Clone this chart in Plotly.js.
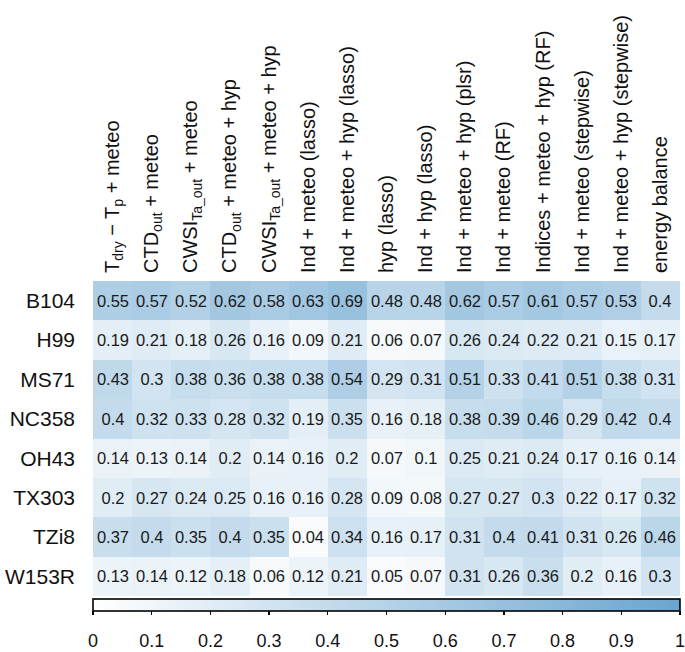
<!DOCTYPE html>
<html>
<head>
<meta charset="utf-8">
<script src="https://cdn.plot.ly/plotly-3.0.1.min.js"></script>
<style>html,body{margin:0;padding:0;background:#fff;}#chart{width:685px;height:652px;}</style>
</head>
<body>
<div id="chart"></div>
<script>
const models = [
  "T<sub>dry</sub> − T<sub>p</sub> + meteo",
  "CTD<sub>out</sub> + meteo",
  "CWSI<sub>Ta_out</sub> + meteo",
  "CTD<sub>out</sub> + meteo + hyp",
  "CWSI<sub>Ta_out</sub> + meteo + hyp",
  "Ind + meteo (lasso)",
  "Ind + meteo + hyp (lasso)",
  "hyp (lasso)",
  "Ind + hyp (lasso)",
  "Ind + meteo + hyp (plsr)",
  "Ind + meteo (RF)",
  "Indices + meteo + hyp (RF)",
  "Ind + meteo (stepwise)",
  "Ind + meteo + hyp (stepwise)",
  "energy balance"
];
const genotypes = ["B104", "H99", "MS71", "NC358", "OH43", "TX303", "TZi8", "W153R"];
const B104  = [0.55, 0.57, 0.52, 0.62, 0.58, 0.63, 0.69, 0.48, 0.48, 0.62, 0.57, 0.61, 0.57, 0.53, 0.4];
const H99   = [0.19, 0.21, 0.18, 0.26, 0.16, 0.09, 0.21, 0.06, 0.07, 0.26, 0.24, 0.22, 0.21, 0.15, 0.17];
const MS71  = [0.43, 0.3, 0.38, 0.36, 0.38, 0.38, 0.54, 0.29, 0.31, 0.51, 0.33, 0.41, 0.51, 0.38, 0.31];
const NC358 = [0.4, 0.32, 0.33, 0.28, 0.32, 0.19, 0.35, 0.16, 0.18, 0.38, 0.39, 0.46, 0.29, 0.42, 0.4];
const OH43  = [0.14, 0.13, 0.14, 0.2, 0.14, 0.16, 0.2, 0.07, 0.1, 0.25, 0.21, 0.24, 0.17, 0.16, 0.14];
const TX303 = [0.2, 0.27, 0.24, 0.25, 0.16, 0.16, 0.28, 0.09, 0.08, 0.27, 0.27, 0.3, 0.22, 0.17, 0.32];
const TZi8  = [0.37, 0.4, 0.35, 0.4, 0.35, 0.04, 0.34, 0.16, 0.17, 0.31, 0.4, 0.41, 0.31, 0.26, 0.46];
const W153R = [0.13, 0.14, 0.12, 0.18, 0.06, 0.12, 0.21, 0.05, 0.07, 0.31, 0.26, 0.36, 0.2, 0.16, 0.3];
const colorbarTicks = [0, 0.1, 0.2, 0.3, 0.4, 0.5, 0.6, 0.7, 0.8, 0.9, 1];

const z = [B104, H99, MS71, NC358, OH43, TX303, TZi8, W153R];
const txt = z.map(r => r.map(v => String(v)));

const FONT = "Liberation Sans, Arial, sans-serif";

// pixel geometry helpers (paper area: top 281, bottom 646)
const PT = 281, PB = 646, PH = PB - PT;
const py = px => (PB - px) / PH;

const heat = {
  type: "heatmap",
  x: models,
  y: genotypes,
  z: z,
  text: txt,
  texttemplate: "%{text}",
  textfont: {family: FONT, size: 16.5, color: "#1a1a1a"},
  zmin: 0, zmax: 1,
  colorscale: [[0, "#ffffff"], [1, "#6aa5cf"]],
  hoverinfo: "skip",
  colorbar: {
    orientation: "h",
    x: 0.5, xanchor: "center",
    y: py(598.5), yanchor: "top",
    len: 1, lenmode: "fraction",
    thickness: 12,
    xpad: 0, ypad: 0,
    outlinewidth: 1.6, outlinecolor: "#000",
    ticks: "outside", ticklen: 4, tickwidth: 1.3, tickcolor: "#000",
    tickmode: "array",
    tickvals: colorbarTicks,
    showticklabels: false
  }
};

// invisible helper trace so the colour-scale label axis (x2) is drawn
const scaleAxis = {
  type: "scatter",
  x: [colorbarTicks[0], colorbarTicks[colorbarTicks.length - 1]],
  y: [genotypes[0], genotypes[0]],
  xaxis: "x2", yaxis: "y",
  mode: "markers",
  marker: {opacity: 0, size: 1},
  hoverinfo: "skip",
  showlegend: false
};

const layout = {
  width: 685, height: 652,
  margin: {l: 93, r: 5, t: PT, b: 652 - PB},
  paper_bgcolor: "#fff", plot_bgcolor: "#fff",
  font: {family: FONT, color: "#111"},
  showlegend: false,
  xaxis: {
    side: "top",
    tickangle: -90,
    tickfont: {family: FONT, size: 20, color: "#111"},
    showgrid: false, zeroline: false, showline: false,
    ticks: "", ticklabelstandoff: 7,
    fixedrange: true
  },
  yaxis: {
    domain: [py(596), 1],
    autorange: "reversed",
    tickfont: {family: FONT, size: 21, color: "#111"},
    showgrid: false, zeroline: false, showline: false,
    ticks: "", ticklabelstandoff: 17,
    fixedrange: true
  },
  xaxis2: {
    anchor: "free",
    position: py(628),
    overlaying: "x",
    side: "bottom",
    range: [0, 1],
    tickmode: "array",
    tickvals: colorbarTicks,
    ticktext: colorbarTicks.map(String),
    tickfont: {family: FONT, size: 18, color: "#111"},
    ticklabeloverflow: "allow",
    showgrid: false, zeroline: false, showline: false,
    ticks: "", ticklabelstandoff: 0,
    fixedrange: true
  }
};

Plotly.newPlot("chart", [heat, scaleAxis], layout, {displayModeBar: false, staticPlot: true});
</script>
</body>
</html>
